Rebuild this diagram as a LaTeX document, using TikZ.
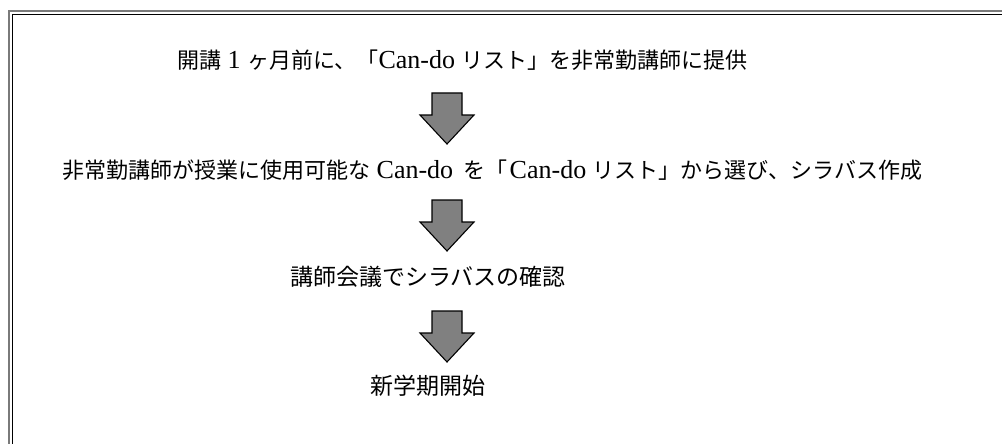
\documentclass[tikz,border=0pt]{standalone}
\usepackage{fontspec}
\setmainfont{Liberation Serif}
\newfontfamily\jp{Noto Sans CJK JP}
\definecolor{arrowgray}{HTML}{808080}
\definecolor{framegray}{HTML}{7A7A7A}
\newcommand{\jpt}[1]{{\jp\fontsize{22pt}{26pt}\selectfont #1}}
\newcommand{\lat}[1]{{\fontsize{26pt}{26pt}\selectfont #1}}
\tikzset{
  txt/.style={inner sep=0pt, anchor=base west, text=black},
  blockarr/.pic={\draw[fill=arrowgray, line width=1.1pt, line join=miter]
     (-15,0) -- (15,0) -- (15,22) -- (27,22) -- (0,51) -- (-27,22) -- (-15,22) -- cycle;}
}
\begin{document}
\begin{tikzpicture}[x=1pt,y=-1pt]
\clip (0,0) rectangle (1002,444);
\fill[white] (0,0) rectangle (1002,444);
\draw[framegray, line width=2pt] (9,11) rectangle (1030,470);
\draw[black, line width=1.2pt] (12.5,14.5) rectangle (1030,470);
\node[txt, font=\fontsize{26pt}{26pt}\selectfont] (s1) at (177,69)
  {\jpt{開講} \lat{1} \jpt{ヶ月前に、「}\lat{Can-do} \jpt{リスト」を非常勤講師に提供}};
\node[txt, font=\fontsize{26pt}{26pt}\selectfont] (s2) at (62,178.5)
  {\jpt{非常勤講師が授業に使用可能な} \lat{Can-do}\hspace{4pt} \jpt{を「}\hspace{2pt}\lat{Can-do} \jpt{リスト」から選び、シラバス作成}};
\node[txt, font=\fontsize{23pt}{26pt}\selectfont] (s3) at (290,285)
  {{\jp 講師会議でシラバスの確認}};
\node[txt, font=\fontsize{23pt}{26pt}\selectfont] (s4) at (370,394.5)
  {{\jp 新学期開始}};
\pic (a1) at (447,93) {blockarr};
\pic (a2) at (447,200) {blockarr};
\pic (a3) at (447,311) {blockarr};
\end{tikzpicture}
\end{document}
